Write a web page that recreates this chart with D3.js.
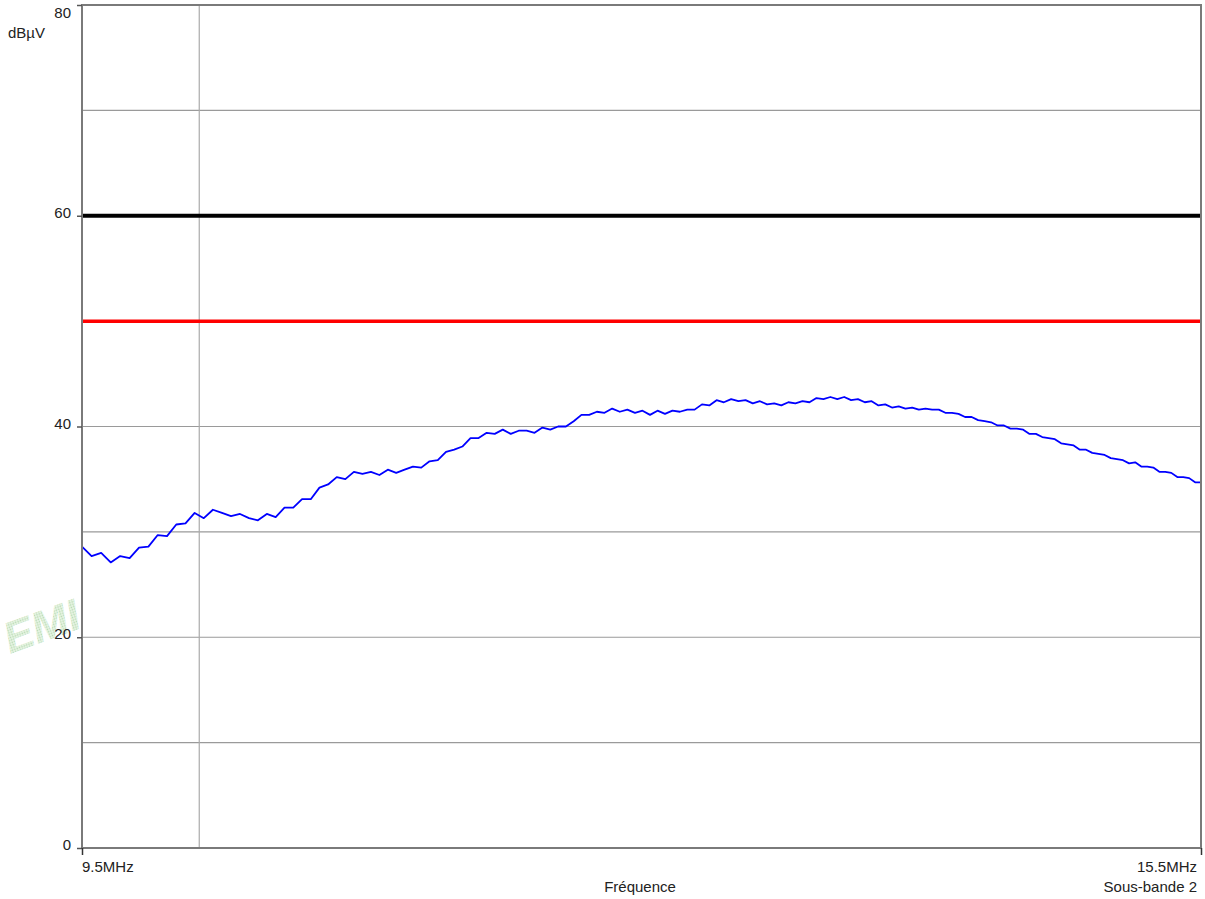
<!DOCTYPE html>
<html>
<head>
<meta charset="utf-8">
<script src="https://cdn.jsdelivr.net/npm/d3@7"></script>
<style>
  html, body { margin: 0; padding: 0; background: #fff; }
  svg { display: block; font-family: "Liberation Sans", Arial, sans-serif; }
</style>
</head>
<body>
<svg id="chart" width="1205" height="899"></svg>
<script>
// Sweep frequencies (MHz)
const freqMHz = [
  9.50, 9.54, 9.58, 9.62, 9.66, 9.70, 9.74, 9.78, 9.82, 9.86,
  9.90, 9.94, 9.98, 10.02, 10.06, 10.10, 10.14, 10.18, 10.22, 10.26,
  10.30, 10.34, 10.38, 10.42, 10.46, 10.50, 10.54, 10.58, 10.62, 10.66,
  10.70, 10.74, 10.78, 10.82, 10.86, 10.90, 10.94, 10.98, 11.02, 11.06,
  11.10, 11.14, 11.18, 11.22, 11.26, 11.30, 11.34, 11.38, 11.42, 11.46,
  11.50, 11.54, 11.58, 11.62, 11.66, 11.70, 11.74, 11.78, 11.82, 11.86,
  11.90, 11.94, 11.98, 12.02, 12.06, 12.10, 12.14, 12.18, 12.22, 12.26,
  12.30, 12.34, 12.38, 12.42, 12.46, 12.50, 12.54, 12.58, 12.62, 12.66,
  12.70, 12.74, 12.78, 12.82, 12.86, 12.90, 12.94, 12.98, 13.02, 13.06,
  13.10, 13.14, 13.18, 13.22, 13.26, 13.30, 13.34, 13.38, 13.42, 13.46,
  13.50, 13.54, 13.58, 13.62, 13.66, 13.70, 13.74, 13.78, 13.82, 13.86,
  13.90, 13.94, 13.98, 14.02, 14.06, 14.10, 14.14, 14.18, 14.22, 14.26,
  14.30, 14.34, 14.38, 14.42, 14.46, 14.50, 14.54, 14.58, 14.62, 14.66,
  14.70, 14.74, 14.78, 14.82, 14.86, 14.90, 14.94, 14.98, 15.02, 15.06,
  15.10, 15.14, 15.18, 15.22, 15.26, 15.30, 15.34, 15.38, 15.42, 15.46,
  15.50
];

// Measured level (dBµV)
const levelDbuV = [
  28.6, 27.7, 28.0, 27.1, 27.7, 27.5, 28.5, 28.6, 29.7, 29.6,
  30.7, 30.8, 31.8, 31.3, 32.1, 31.8, 31.5, 31.7, 31.3, 31.1,
  31.7, 31.4, 32.3, 32.3, 33.1, 33.1, 34.2, 34.5, 35.2, 35.0,
  35.7, 35.5, 35.7, 35.4, 35.9, 35.6, 35.9, 36.2, 36.1, 36.7,
  36.8, 37.6, 37.8, 38.1, 38.9, 38.9, 39.4, 39.3, 39.7, 39.3,
  39.6, 39.6, 39.4, 39.9, 39.7, 40.0, 40.0, 40.5, 41.1, 41.1,
  41.4, 41.3, 41.7, 41.4, 41.6, 41.3, 41.5, 41.1, 41.5, 41.2,
  41.5, 41.4, 41.6, 41.6, 42.1, 42.0, 42.5, 42.3, 42.6, 42.4,
  42.5, 42.2, 42.4, 42.1, 42.2, 42.0, 42.3, 42.2, 42.4, 42.3,
  42.7, 42.6, 42.8, 42.6, 42.8, 42.5, 42.6, 42.3, 42.4, 42.0,
  42.1, 41.8, 41.9, 41.7, 41.8, 41.6, 41.7, 41.6, 41.6, 41.3,
  41.3, 41.2, 40.9, 40.9, 40.6, 40.5, 40.4, 40.1, 40.1, 39.8,
  39.8, 39.7, 39.3, 39.3, 39.0, 38.9, 38.8, 38.4, 38.3, 38.2,
  37.8, 37.8, 37.5, 37.4, 37.3, 37.0, 36.9, 36.8, 36.5, 36.6,
  36.2, 36.2, 36.1, 35.7, 35.7, 35.6, 35.2, 35.2, 35.1, 34.7,
  34.7
];

// Limit lines (dBµV)
const limitLines = [
  { name: "Limite QC", level: 60, color: "#000000", width: 4 },
  { name: "Limite AV", level: 50, color: "#ff0000", width: 3.5 }
];

const yTicks = [0, 20, 40, 60, 80];
const yGrid = [10, 20, 30, 40, 50, 60, 70];
const xGrid = [10];
const freqDomain = [9.5, 15.5];
const levelDomain = [0, 80];

const svg = d3.select("#chart");
const margin = { left: 82, top: 5, right: 4, bottom: 51 };
const W = 1205, H = 899;
const iw = W - margin.left - margin.right;
const ih = H - margin.top - margin.bottom;
const fontSize = 15;

const x = d3.scaleLog().domain(freqDomain).range([margin.left, margin.left + iw]);
const y = d3.scaleLinear().domain(levelDomain).range([margin.top + ih, margin.top]);

// Dotted fill for the watermark
const defs = svg.append("defs");
const pat = defs.append("pattern")
  .attr("id", "dots").attr("patternUnits", "userSpaceOnUse")
  .attr("width", 2.5).attr("height", 2.5);
pat.append("rect").attr("width", 2.5).attr("height", 2.5).attr("fill", "#e6f3e3");
pat.append("circle").attr("cx", 1.2).attr("cy", 1.2).attr("r", 0.8).attr("fill", "#a9d6a2");

// Faint watermark, partly hidden by the plot area
svg.append("text")
  .attr("x", 10).attr("y", 654)
  .attr("transform", "rotate(-20 10 654)")
  .attr("font-size", 44)
  .attr("font-weight", "bold")
  .attr("font-style", "italic")
  .attr("fill", "url(#dots)")
  .attr("opacity", 0.85)
  .text("EMI");

// Plot background
svg.append("rect")
  .attr("x", margin.left).attr("y", margin.top)
  .attr("width", iw).attr("height", ih)
  .attr("fill", "#fff");

// Grid
const g = svg.append("g");
g.selectAll("line.hg").data(yGrid).join("line")
  .attr("x1", margin.left).attr("x2", margin.left + iw)
  .attr("y1", d => y(d)).attr("y2", d => y(d))
  .attr("stroke", "#9a9a9a").attr("stroke-width", 1.2);
g.selectAll("line.vg").data(xGrid).join("line")
  .attr("x1", d => x(d)).attr("x2", d => x(d))
  .attr("y1", margin.top).attr("y2", margin.top + ih)
  .attr("stroke", "#aaaaaa").attr("stroke-width", 1.2);

// Limit lines
svg.selectAll("line.limit").data(limitLines).join("line")
  .attr("x1", margin.left).attr("x2", margin.left + iw)
  .attr("y1", d => y(d.level)).attr("y2", d => y(d.level))
  .attr("stroke", d => d.color).attr("stroke-width", d => d.width);

// Measurement trace
const trace = freqMHz.map((f, i) => [f, levelDbuV[i]]);
svg.append("path")
  .datum(trace)
  .attr("fill", "none")
  .attr("stroke", "#0000ff")
  .attr("stroke-width", 1.8)
  .attr("stroke-linejoin", "round")
  .attr("d", d3.line().x(d => x(d[0])).y(d => y(d[1])));

// Frame
svg.append("rect")
  .attr("x", margin.left).attr("y", margin.top)
  .attr("width", iw).attr("height", ih)
  .attr("fill", "none")
  .attr("stroke", "#7a7a7a").attr("stroke-width", 2);

// Y axis ticks and labels
const yAxis = d3.axisLeft(y).tickValues(yTicks).tickSize(5).tickPadding(6);
const ya = svg.append("g").attr("transform", `translate(${margin.left},0)`).call(yAxis);
ya.select(".domain").remove();
ya.selectAll(".tick line").attr("stroke", "#555").attr("stroke-width", 1.5);
ya.selectAll(".tick text")
  .attr("font-size", fontSize).attr("fill", "#222")
  .attr("font-family", "Liberation Sans, Arial, sans-serif")
  .attr("dy", d => d === levelDomain[1] ? "0.8em" : "0.1em");

// X axis end ticks and labels
const xAxis = d3.axisBottom(x).tickValues(freqDomain).tickSize(7).tickFormat(() => "");
const xa = svg.append("g").attr("transform", `translate(0,${margin.top + ih})`).call(xAxis);
xa.select(".domain").remove();
xa.selectAll(".tick line").attr("stroke", "#333").attr("stroke-width", 1.5);

const label = (tx, ty, anchor, str) => svg.append("text")
  .attr("x", tx).attr("y", ty)
  .attr("text-anchor", anchor)
  .attr("font-size", fontSize).attr("fill", "#222")
  .text(str);

label(x(freqDomain[0]), 872, "start", freqDomain[0] + "MHz");
label(x(freqDomain[1]) - 4, 872, "end", freqDomain[1] + "MHz");
label(x(freqDomain[1]) - 4, 892, "end", "Sous-bande 2");
label(640, 892, "middle", "Fréquence");

// Unit label
label(8, 38, "start", "dBµV");
</script>
</body>
</html>
